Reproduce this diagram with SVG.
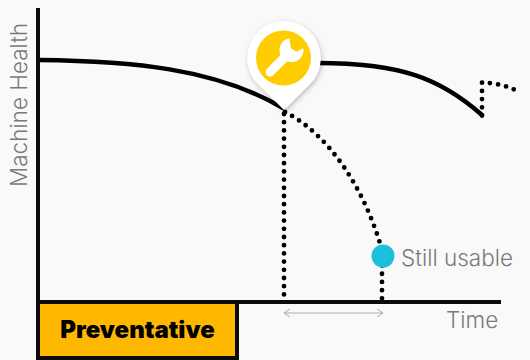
<svg xmlns="http://www.w3.org/2000/svg" width="530" height="360" viewBox="0 0 530 360">
<defs>
<style>
.curve{fill:none;stroke:#000;stroke-width:4.500;stroke-linecap:round}
.dots{fill:none;stroke:#000;stroke-width:4.800;stroke-linecap:round;stroke-dasharray:0 8.2}
.axis{fill:none;stroke:#0a0a0f;stroke-width:4}
.lbl{font-family:"Inter","Liberation Sans",sans-serif;font-weight:300;fill:#7a7a7a;font-size:22.500px}
</style>
<filter id="sh" x="-30%" y="-30%" width="160%" height="160%"><feDropShadow dx="1" dy="2" stdDeviation="2.5" flood-color="#000" flood-opacity="0.25"/></filter>
</defs>
<rect width="530" height="360" fill="#f9f9f9"/>
<g id="connectors">
<path class="curve" d="M39 60C130 61 215 68 283 108"/>
<path class="curve" d="M318 63C400 63 440 78 482 115"/>
<path class="dots" d="M285 112C330 135 365 190 382 250V302"/>
<path class="dots" d="M284 114V302"/>
<path class="dots" d="M482 115.500V82.500C493 83 505 85 515 90"/>
<path d="M284 313H383M290 309L284 313L290 317M377 309L383 313L377 317" fill="none" stroke="#aaa" stroke-width="1"/>
</g>
<g id="axes">
<path class="axis" d="M38 8V304"/>
<path class="axis" d="M38 302H501"/>
</g>
<g id="y-label"><text class="lbl" transform="translate(27 187) rotate(-90)">Machine Health</text></g>
<g id="time-label"><text class="lbl" x="446" y="328">Time</text></g>
<g id="preventative">
<rect x="38" y="302" width="199" height="56" fill="#ffb800" stroke="#0a0a0f" stroke-width="4"/>
<text x="137.500" y="338" text-anchor="middle" font-family="Inter,'Liberation Sans',sans-serif" font-weight="900" font-size="24">Preventative</text>
</g>
<g id="pin">
<path d="M284 21A37 37 0 0 1 310 84L284 110L258 84A37 37 0 0 1 284 21Z" fill="#fff" filter="url(#sh)"/>
<circle cx="283.500" cy="58" r="27.500" fill="#ffcc00"/>
<path d="M270 72L288 54" stroke="#fff" stroke-width="9" stroke-linecap="round" fill="none"/>
<path d="M289.300 38.300L291 48.300L296.700 51.700L303.300 48.300A12 12 0 1 1 289.300 38.300Z" fill="#fff"/>
</g>
<g id="still-usable">
<circle cx="383" cy="256" r="11.500" fill="#1cbfdc"/>
<text class="lbl" x="401" y="266">Still usable</text>
</g>
</svg>
